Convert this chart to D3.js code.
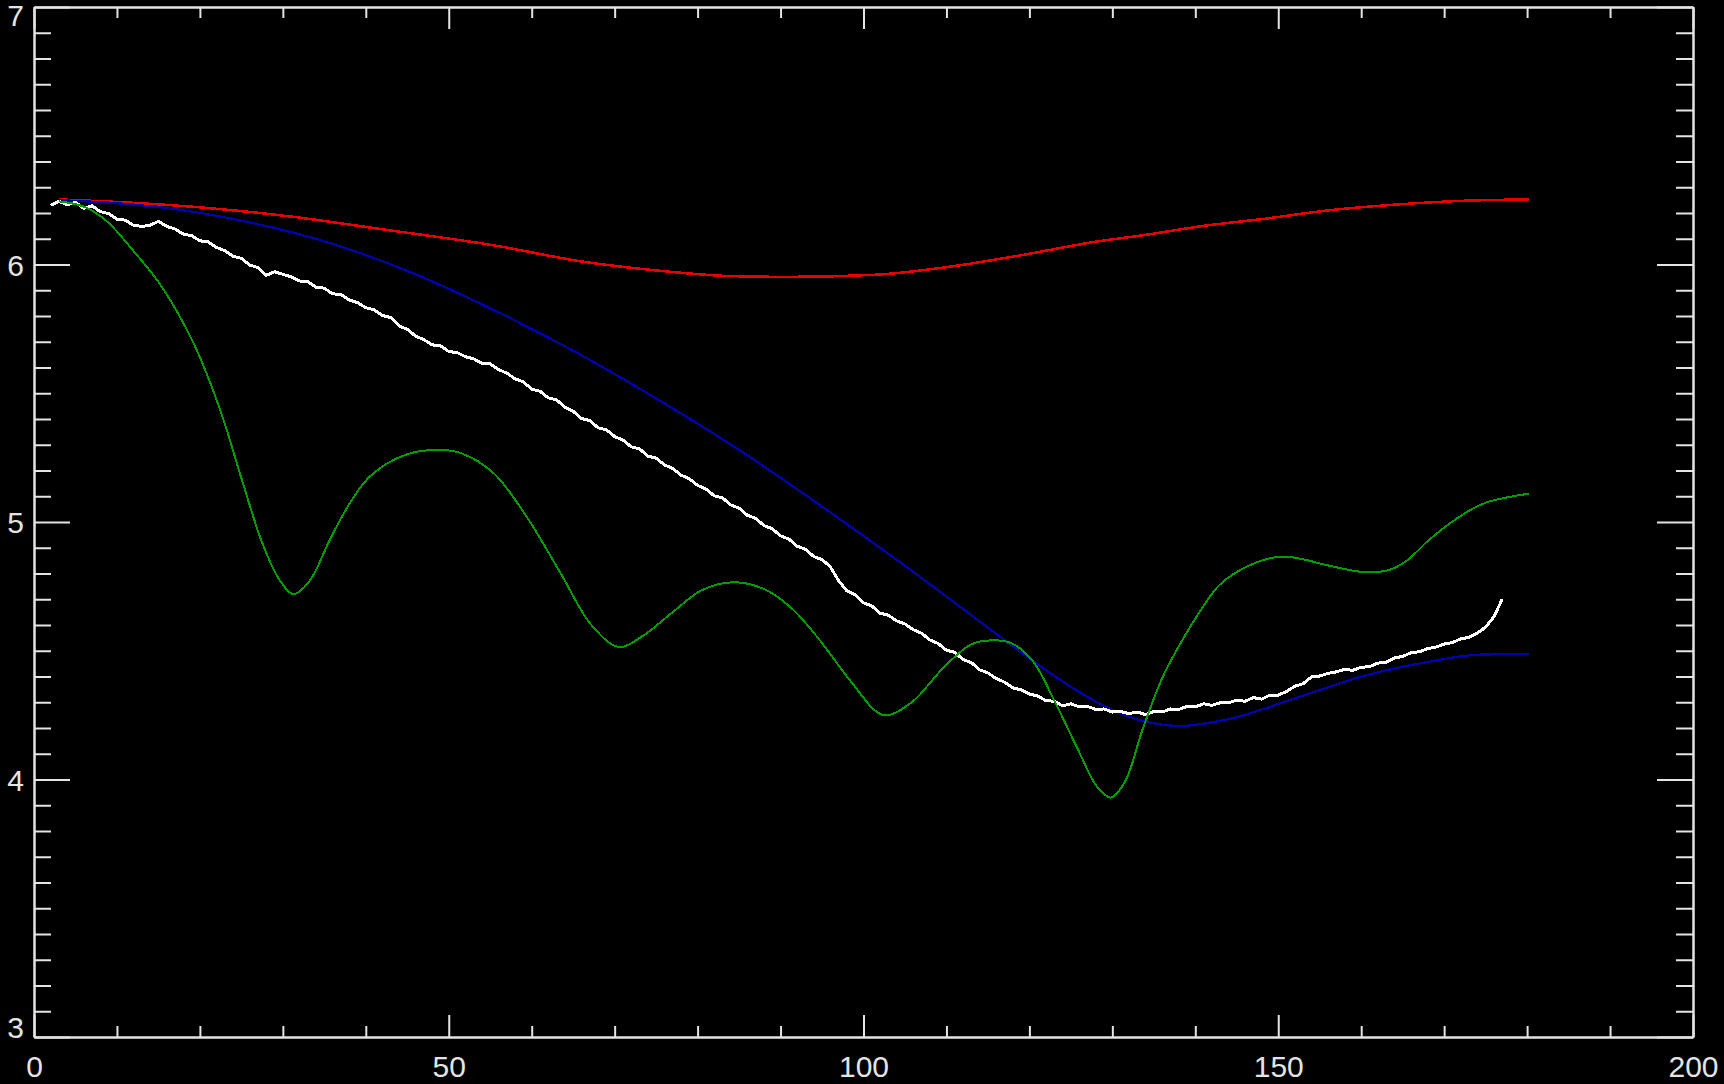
<!DOCTYPE html>
<html>
<head>
<meta charset="utf-8">
<script src="https://cdn.jsdelivr.net/npm/d3@7"></script>
<style>
  body { margin: 0; background: #000; }
  svg { display: block; }
</style>
</head>
<body>
<div id="chart"></div>
<script>
// Values (x in the 0..200 axis units, y in 3..7)
const redX = [3, 10, 20, 30, 42.6, 55.5, 66, 74.7, 84, 91, 101.3, 110.1, 119, 127.9, 134, 141, 148.2, 156, 164.3, 172, 180.2];
const redY = [6.253, 6.243, 6.222, 6.19, 6.134, 6.074, 6.012, 5.978, 5.955, 5.952, 5.96, 5.99, 6.036, 6.088, 6.115, 6.15, 6.177, 6.21, 6.233, 6.247, 6.253];

const blueX = [3, 10, 17, 25, 35, 45, 55, 65, 75, 85, 95, 105, 115, 120, 125, 130, 134, 138.2, 144.2, 152.2, 160.3, 168.3, 174.3, 180.2];
const blueY = [6.25, 6.238, 6.215, 6.17, 6.09, 5.975, 5.83, 5.665, 5.48, 5.28, 5.06, 4.83, 4.59, 4.47, 4.36, 4.27, 4.225, 4.208, 4.236, 4.317, 4.402, 4.458, 4.485, 4.487];

const greenX = [3, 6, 8.6, 12.4, 15.4, 19.3, 22.5, 25.1, 27.5, 29.6, 31.3, 33.2, 35.8, 38.2, 40.6, 44.7, 48.5, 51.5, 55.4, 59.4, 63.4, 67.2, 70.5, 73.5, 77, 80.5, 84.3, 88, 91.5, 95, 98.5, 102.4, 105.8, 109.8, 113, 115.2, 117.8, 120.4, 123.1, 125.8, 128.2, 129.8, 131.5, 133.7, 136.1, 138.6, 140.5, 142.6, 145, 148.2, 150.6, 153, 156.2, 160.5, 163.5, 165.5, 168.3, 172.3, 175, 177.5, 180.2];
const greenY = [6.245, 6.225, 6.173, 6.037, 5.914, 5.69, 5.43, 5.16, 4.92, 4.775, 4.72, 4.77, 4.94, 5.08, 5.18, 5.26, 5.28, 5.267, 5.19, 5.02, 4.806, 4.60, 4.515, 4.56, 4.65, 4.735, 4.766, 4.74, 4.66, 4.53, 4.38, 4.25, 4.30, 4.44, 4.525, 4.54, 4.53, 4.46, 4.30, 4.12, 3.97, 3.93, 3.99, 4.20, 4.40, 4.55, 4.65, 4.745, 4.806, 4.852, 4.866, 4.855, 4.83, 4.805, 4.815, 4.85, 4.934, 5.03, 5.075, 5.095, 5.11];

// noisy measured curve, one value per x unit starting at x = 2
const whiteY = [
  6.23, 6.245, 6.232, 6.242, 6.218, 6.228, 6.205, 6.198, 6.176, 6.172,
  6.152, 6.148, 6.152, 6.168, 6.148, 6.138, 6.118, 6.112, 6.092, 6.088,
  6.066, 6.054, 6.032, 6.024, 5.998, 5.988, 5.958, 5.972, 5.962, 5.952,
  5.936, 5.934, 5.912, 5.908, 5.886, 5.884, 5.862, 5.852, 5.832, 5.824,
  5.802, 5.794, 5.762, 5.748, 5.722, 5.708, 5.688, 5.684, 5.662, 5.658,
  5.642, 5.634, 5.616, 5.614, 5.592, 5.578, 5.556, 5.544, 5.516, 5.508,
  5.482, 5.474, 5.446, 5.43, 5.402, 5.394, 5.366, 5.358, 5.332, 5.318,
  5.292, 5.284, 5.256, 5.248, 5.222, 5.208, 5.182, 5.168, 5.142, 5.128,
  5.102, 5.094, 5.066, 5.054, 5.026, 5.014, 4.986, 4.974, 4.946, 4.934,
  4.906, 4.894, 4.866, 4.854, 4.826, 4.772, 4.732, 4.718, 4.686, 4.674,
  4.646, 4.638, 4.616, 4.604, 4.582, 4.568, 4.542, 4.528, 4.502, 4.494,
  4.466, 4.454, 4.426, 4.414, 4.392, 4.378, 4.356, 4.348, 4.332, 4.324,
  4.306, 4.304, 4.286, 4.294, 4.282, 4.284, 4.272, 4.274, 4.262, 4.264,
  4.256, 4.262, 4.252, 4.264, 4.262, 4.274, 4.272, 4.284, 4.282, 4.294,
  4.288, 4.298, 4.298, 4.308, 4.304, 4.318, 4.312, 4.328, 4.328, 4.342,
  4.362, 4.372, 4.398, 4.402, 4.412, 4.418, 4.428, 4.424, 4.436, 4.438,
  4.452, 4.456, 4.472, 4.478, 4.492, 4.496, 4.508, 4.514, 4.526, 4.532,
  4.546, 4.552, 4.568, 4.592, 4.632, 4.70
];
const whiteX = d3.range(2, 2 + whiteY.length);

// tick values
const xMajor = [0, 50, 100, 150, 200];
const xMinor = d3.range(0, 201, 10).filter(v => v % 50 !== 0);
const yMajor = [3, 4, 5, 6, 7];
const yMinor = d3.range(30, 71).filter(v => v % 10 !== 0).map(v => v / 10);

// Set up dimensions
const width = 1724;
const height = 1084;
const margin = { top: 7, right: 31, bottom: 47, left: 34 };
const axisColor = "#e4e4e4";

const svg = d3.select("#chart")
    .append("svg")
    .attr("width", width)
    .attr("height", height)
    .style("background", "#000");

const x = d3.scaleLinear().domain([0, 200]).range([margin.left, width - margin.right]);
const y = d3.scaleLinear().domain([3, 7]).range([height - margin.bottom, margin.top]);

// IDL style inward ticks on all four sides
function styleAxis(g) {
    g.select(".domain").attr("stroke", axisColor).attr("stroke-width", 2);
    g.selectAll(".tick line").attr("stroke", axisColor).attr("stroke-width", 2);
    g.selectAll("text")
        .attr("fill", axisColor)
        .style("font-family", "'Liberation Sans', Arial, sans-serif")
        .style("font-size", "30px");
}

const xBottom = height - margin.bottom;
const xTop = margin.top;
const yLeft = margin.left;
const yRight = width - margin.right;

// minor ticks first
svg.append("g").attr("transform", `translate(0,${xBottom})`)
    .call(d3.axisBottom(x).tickValues(xMinor).tickSize(-11).tickSizeOuter(0).tickFormat(""))
    .call(styleAxis);
svg.append("g").attr("transform", `translate(0,${xTop})`)
    .call(d3.axisTop(x).tickValues(xMinor).tickSize(-11).tickSizeOuter(0).tickFormat(""))
    .call(styleAxis);
svg.append("g").attr("transform", `translate(${yLeft},0)`)
    .call(d3.axisLeft(y).tickValues(yMinor).tickSize(-17).tickSizeOuter(0).tickFormat(""))
    .call(styleAxis);
svg.append("g").attr("transform", `translate(${yRight},0)`)
    .call(d3.axisRight(y).tickValues(yMinor).tickSize(-17).tickSizeOuter(0).tickFormat(""))
    .call(styleAxis);

// major ticks with labels on bottom / left
const gBottom = svg.append("g").attr("transform", `translate(0,${xBottom})`)
    .call(d3.axisBottom(x).tickValues(xMajor).tickSize(-22).tickSizeOuter(0).tickFormat(d3.format("d")))
    .call(styleAxis);
gBottom.selectAll("text").attr("y", 40).attr("dy", 0);

svg.append("g").attr("transform", `translate(0,${xTop})`)
    .call(d3.axisTop(x).tickValues(xMajor).tickSize(-22).tickSizeOuter(0).tickFormat(""))
    .call(styleAxis);

const gLeft = svg.append("g").attr("transform", `translate(${yLeft},0)`)
    .call(d3.axisLeft(y).tickValues(yMajor).tickSize(-36).tickSizeOuter(0).tickFormat(d3.format("d")))
    .call(styleAxis);
gLeft.selectAll("text")
    .attr("x", -10)
    .attr("dy", "0.36em")
    .attr("y", d => d === 7 ? 8 : d === 3 ? -10 : 0);

svg.append("g").attr("transform", `translate(${yRight},0)`)
    .call(d3.axisRight(y).tickValues(yMajor).tickSize(-36).tickSizeOuter(0).tickFormat(""))
    .call(styleAxis);

// Curves
const smooth = d3.line().x(d => x(d[0])).y(d => y(d[1])).curve(d3.curveMonotoneX);
const rounded = d3.line().x(d => x(d[0])).y(d => y(d[1])).curve(d3.curveCatmullRom.alpha(0.5));
const jagged = d3.line().x(d => x(d[0])).y(d => y(d[1]));

const series = [
    { xs: redX, ys: redY, color: "#e80000", w: 2.5, gen: smooth },
    { xs: blueX, ys: blueY, color: "#0000b0", w: 2.2, gen: smooth },
    { xs: whiteX, ys: whiteY, color: "#ffffff", w: 3, gen: jagged },
    { xs: greenX, ys: greenY, color: "#009c00", w: 2, gen: rounded }
];

series.forEach(s => {
    const pts = s.xs.map((v, i) => [v, s.ys[i]]);
    svg.append("path")
        .datum(pts)
        .attr("d", s.gen)
        .attr("fill", "none")
        .attr("stroke", s.color)
        .attr("stroke-width", s.w)
        .style("shape-rendering", "crispEdges");
});
</script>
</body>
</html>
